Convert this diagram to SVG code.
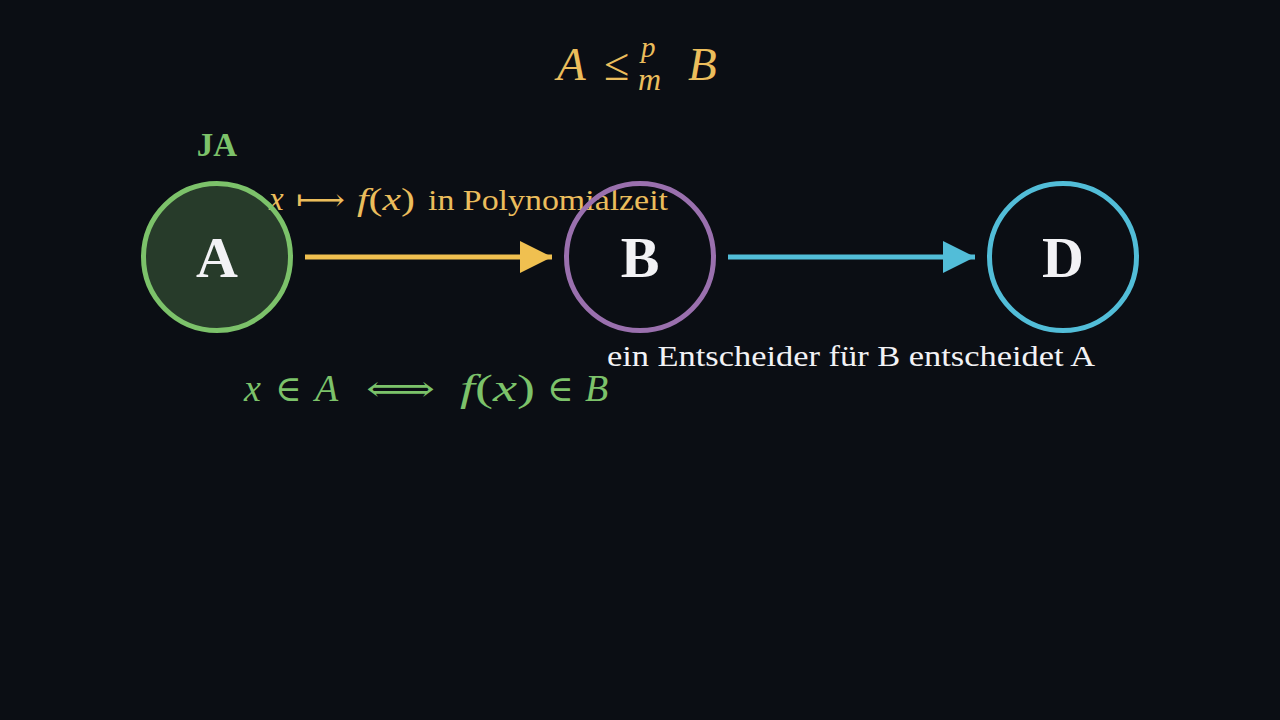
<svg xmlns="http://www.w3.org/2000/svg" width="1280" height="720" viewBox="0 0 1280 720">
<defs>
<style>
.serif{font-family:"Liberation Serif","DejaVu Serif",serif}
.it{font-style:italic}
.node{font-family:"Liberation Serif","DejaVu Serif",serif;font-weight:bold;font-size:58px;fill:#f2f2f5;text-anchor:middle}
.yel{fill:#ebbd5c}
.grn{fill:#7cc26a}
.wht{fill:#f2f2f5}
</style>
<marker id="ah-y" viewBox="0 0 10 10" refX="10" refY="5" markerWidth="6.4" markerHeight="6.4" markerUnits="strokeWidth" orient="auto"><path d="M0,0 L10,5 L0,10 Z" fill="#f0c050"/></marker>
<marker id="ah-c" viewBox="0 0 10 10" refX="10" refY="5" markerWidth="6.4" markerHeight="6.4" markerUnits="strokeWidth" orient="auto"><path d="M0,0 L10,5 L0,10 Z" fill="#52bdd8"/></marker>
</defs>
<rect width="1280" height="720" fill="#0b0e14"/>

<g id="title" class="serif yel">
<text x="557" y="80" font-size="47" class="it">A</text>
<text x="604" y="80" font-size="46">≤</text>
<text x="641" y="57" font-size="29" class="it">p</text>
<text x="638" y="90" font-size="32" class="it">m</text>
<text x="688" y="80" font-size="47" class="it">B</text>
</g>

<g id="ja-label">
<text x="217" y="156" class="serif grn" font-weight="bold" font-size="33" text-anchor="middle">JA</text>
</g>

<g id="map-label" class="serif yel">
<text x="269" y="210" font-size="33" class="it">x</text>
<text x="296" y="210" font-size="30" textLength="49" lengthAdjust="spacingAndGlyphs">⟼</text>
<text x="357" y="210" font-size="32" textLength="58" lengthAdjust="spacingAndGlyphs"><tspan class="it">f</tspan>(<tspan class="it">x</tspan>)</text>
<text x="428" y="210" font-size="30" textLength="240" lengthAdjust="spacingAndGlyphs">in Polynomialzeit</text>
</g>

<g id="connectors">
<line x1="305" y1="257" x2="552" y2="257" stroke="#f0c050" stroke-width="5" marker-end="url(#ah-y)"/>
<line x1="728" y1="257" x2="975" y2="257" stroke="#52bdd8" stroke-width="5" marker-end="url(#ah-c)"/>
</g>

<g id="node-A">
<circle cx="217" cy="257" r="73.5" fill="#7cc26a" fill-opacity="0.25" stroke="#7cc26a" stroke-width="5"/>
<text x="217" y="277" class="node">A</text>
</g>
<g id="node-B">
<circle cx="640" cy="257" r="73.5" fill="none" stroke="#9a70ae" stroke-width="5"/>
<text x="640" y="277" class="node">B</text>
</g>
<g id="node-D">
<circle cx="1063" cy="257" r="73.5" fill="none" stroke="#52bdd8" stroke-width="5"/>
<text x="1063" y="277" class="node">D</text>
</g>

<g id="equiv-label" class="serif grn">
<text x="244" y="401" font-size="38" class="it">x</text>
<text x="275" y="401" font-size="36">∈</text>
<text x="315" y="401" font-size="38" class="it">A</text>
<text x="366" y="401" font-size="36" textLength="69" lengthAdjust="spacingAndGlyphs">⟺</text>
<text x="460" y="401" font-size="38" textLength="75" lengthAdjust="spacingAndGlyphs"><tspan class="it">f</tspan>(<tspan class="it">x</tspan>)</text>
<text x="547" y="401" font-size="36">∈</text>
<text x="585" y="401" font-size="38" class="it">B</text>
</g>

<g id="decider-label">
<text x="607" y="366" class="serif wht" font-size="30" textLength="488" lengthAdjust="spacingAndGlyphs">ein Entscheider für B entscheidet A</text>
</g>
</svg>
